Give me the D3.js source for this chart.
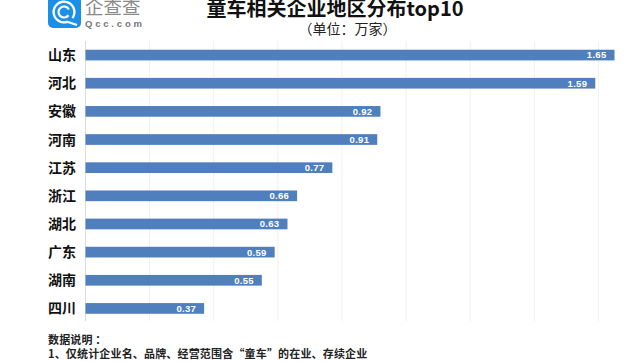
<!DOCTYPE html>
<html lang="en">
<head>
<meta charset="UTF-8">
<title>童车相关企业地区分布top10</title>
<script src="https://d3js.org/d3.v7.min.js"></script>
<style>
    html, body { margin: 0; background: #fff; overflow: hidden; }
    svg { display: block; }
    text { font-family: "Noto Sans CJK SC", "Liberation Sans", sans-serif; }
</style>
</head>
<body>
<script>
    const width = 643
    const height = 362

    const provinces = ["山东", "河北", "安徽", "河南", "江苏", "浙江", "湖北", "广东", "湖南", "四川"]
    const counts = [1.65, 1.59, 0.92, 0.91, 0.77, 0.66, 0.63, 0.59, 0.55, 0.37]
    const gridTicks = [0, 0.2, 0.4, 0.6, 0.8, 1, 1.2, 1.4, 1.6]
    const notes = ["数据说明 ：", "1、仅统计企业名、品牌、经营范围含“童车”的在业、存续企业"]

    const rows = provinces.map((p, i) => ({ province: p, count: counts[i] }))

    const svg = d3.select("body").append("svg")
        .attr("width", width)
        .attr("height", height)

    const x = d3.scaleLinear().domain([0, 1.65]).range([85.5, 614.5])
    const y = d3.scaleBand().domain(provinces).range([41, 322.5]).paddingInner(0.62).paddingOuter(0.31)

    // grid
    svg.append("g").selectAll("line")
        .data(gridTicks)
        .enter().append("line")
        .attr("x1", d => x(d)).attr("x2", d => x(d))
        .attr("y1", 41).attr("y2", 321)
        .attr("stroke", d => d === 0 ? "#dcdcdc" : "#f0f0f0")
        .attr("stroke-width", 1)

    // bars
    svg.append("g").selectAll("rect")
        .data(rows)
        .enter().append("rect")
        .attr("x", x(0))
        .attr("y", d => y(d.province))
        .attr("width", d => x(d.count) - x(0))
        .attr("height", y.bandwidth())
        .attr("fill", "#4f7fbd")

    // values inside the bars
    svg.append("g").selectAll("text")
        .data(rows)
        .enter().append("text")
        .attr("x", d => x(d.count) - 8)
        .attr("y", d => y(d.province) + y.bandwidth() / 2 + 3.4)
        .attr("text-anchor", "end")
        .attr("fill", "#fff")
        .attr("font-size", 9.5)
        .attr("font-weight", "bold")
        .attr("letter-spacing", 0.3)
        .style("font-family", "'Liberation Sans', sans-serif")
        .text(d => d.count.toFixed(2))

    // province labels
    svg.append("g").selectAll("text")
        .data(rows)
        .enter().append("text")
        .attr("x", 48)
        .attr("y", d => y(d.province) + y.bandwidth() / 2 + 5)
        .attr("fill", "#111")
        .attr("font-size", 14)
        .attr("font-weight", "bold")
        .text(d => d.province)

    // title
    svg.append("text")
        .attr("x", 335).attr("y", 16)
        .attr("text-anchor", "middle")
        .attr("font-size", 20)
        .attr("font-weight", "bold")
        .attr("fill", "#111")
        .text("童车相关企业地区分布top10")

    svg.append("text")
        .attr("x", 347.5).attr("y", 34)
        .attr("text-anchor", "middle")
        .attr("font-size", 14)
        .attr("fill", "#222")
        .text("（单位：万家）")

    // notes
    svg.append("g").selectAll("text")
        .data(notes)
        .enter().append("text")
        .attr("x", 48)
        .attr("y", (d, i) => 344 + i * 14)
        .attr("font-size", 11)
        .attr("font-weight", "bold")
        .attr("letter-spacing", 0.17)
        .attr("fill", "#222")
        .text(d => d)

    // logo
    const logo = svg.append("g")
    logo.append("rect").attr("x", 48).attr("y", -4).attr("width", 33).attr("height", 32).attr("rx", 5).attr("fill", "#1a90e8")
    const ring = logo.append("g").attr("transform", "translate(64,12)")
    ring.append("path")
        .attr("d", d3.arc()({ innerRadius: 9.2, outerRadius: 11.6, startAngle: 2.75, endAngle: 2 * Math.PI + 2.2 }))
        .attr("fill", "#fff")
    ring.append("path")
        .attr("d", d3.arc()({ innerRadius: 4.4, outerRadius: 6.6, startAngle: 2.2, endAngle: 2 * Math.PI + 1.1 }))
        .attr("fill", "#fff")
    logo.append("line").attr("x1", 68).attr("y1", 22).attr("x2", 77).attr("y2", 25).attr("stroke", "#fff").attr("stroke-width", 2.2)

    logo.append("text")
        .attr("x", 85).attr("y", 14)
        .attr("font-size", 18.5)
        .attr("fill", "#8a8a8a")
        .text("企查查")
    logo.append("text")
        .attr("x", 85).attr("y", 27)
        .attr("font-size", 9.5)
        .attr("font-weight", "bold")
        .attr("letter-spacing", 2.8)
        .attr("fill", "#777")
        .style("font-family", "'Liberation Sans', sans-serif")
        .text("Qcc.com")
</script>
</body>
</html>
